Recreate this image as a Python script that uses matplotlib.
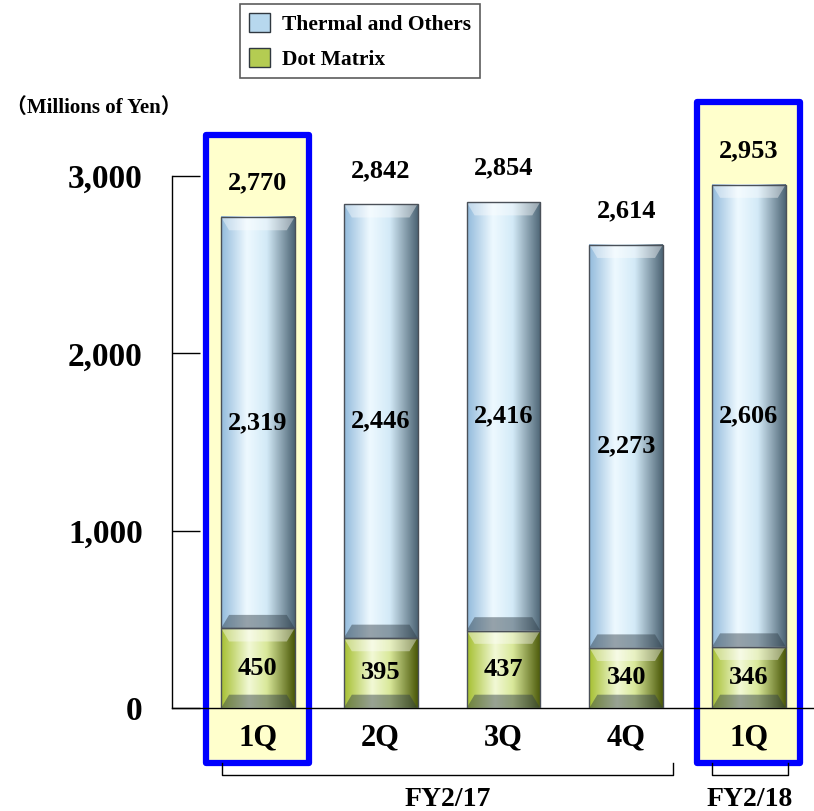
import numpy as np
import matplotlib
matplotlib.use("Agg")
import matplotlib.pyplot as plt
from matplotlib.colors import LinearSegmentedColormap
from matplotlib.patches import Rectangle, Polygon, Patch

quarters = ["1Q", "2Q", "3Q", "4Q", "1Q"]
dot_matrix = [450, 395, 437, 340, 346]
thermal = [2319, 2446, 2416, 2273, 2606]
totals = [2770, 2842, 2854, 2614, 2953]
years = ["FY2/17", "FY2/18"]
year_groups = [[0, 1, 2, 3], [4]]
highlighted = [0, 4]
y_ticks = [0, 1000, 2000, 3000]

plt.rcParams["font.family"] = ["Liberation Serif", "Noto Sans CJK JP"]
plt.rcParams["font.weight"] = "bold"

blue_cmap = LinearSegmentedColormap.from_list(
    "thermal", [(0, "#93bbdc"), (0.35, "#eef9ff"), (0.62, "#d3eaf7"), (1, "#4d6575")])
green_cmap = LinearSegmentedColormap.from_list(
    "dot", [(0, "#a6c032"), (0.38, "#f2f9d6"), (0.62, "#d9e89a"), (1, "#4a5808")])

W, H = 814, 811
fig = plt.figure(figsize=(W / 100, H / 100), dpi=100)
ax = fig.add_axes([172 / W, (H - 708) / H, (W - 172) / W, (708 - 176) / H])

x = np.arange(len(quarters))
width = 0.6
bx = 0.065   # bevel width (data units)
by = 75      # bevel height (data units)


def bevel_bar(xc, bottom, height, cmap):
    x0, x1 = xc - width / 2, xc + width / 2
    y0, y1 = bottom, bottom + height
    grad = cmap(np.linspace(0, 1, 200))[None, :, :]
    ax.imshow(grad, extent=(x0, x1, y0, y1), aspect="auto",
              interpolation="bicubic", zorder=3)
    top = Polygon([(x0, y1), (x1, y1), (x1 - bx, y1 - by), (x0 + bx, y1 - by)],
                  closed=True, facecolor="white", alpha=0.4, lw=0, zorder=4)
    bot = Polygon([(x0, y0), (x1, y0), (x1 - bx, y0 + by), (x0 + bx, y0 + by)],
                  closed=True, facecolor="#2c3a44", alpha=0.45, lw=0, zorder=4)
    ax.add_patch(top)
    ax.add_patch(bot)
    ax.add_patch(Rectangle((x0, y0), width, height, fill=False,
                           edgecolor="#4a5058", lw=1, zorder=5))


for i in range(len(quarters)):
    bevel_bar(x[i], 0, dot_matrix[i], green_cmap)
    bevel_bar(x[i], dot_matrix[i], thermal[i], blue_cmap)
    ax.text(x[i], dot_matrix[i] / 2, f"{dot_matrix[i]:,}", ha="center",
            va="center", fontsize=19, fontweight="bold", zorder=6)
    ax.text(x[i], dot_matrix[i] + thermal[i] / 2, f"{thermal[i]:,}",
            ha="center", va="center", fontsize=19, fontweight="bold", zorder=6)
    ax.text(x[i], totals[i] + 190, f"{totals[i]:,}", ha="center", va="center",
            fontsize=19, fontweight="bold", zorder=6, clip_on=False)

# highlight frames
for i in highlighted:
    ax.add_patch(Rectangle((x[i] - 0.42, -310), 0.84, totals[i] + 462 + 310,
                           facecolor="#ffffcc", edgecolor="#0000ff", lw=4.5,
                           joinstyle="round", zorder=1, clip_on=False))

# year brackets
spans = [(-0.29, 0.38), (-0.3, 0.32)]
for (lab, grp), (l, r) in zip(zip(years, year_groups), spans):
    xl, xr = grp[0] + l, grp[-1] + r
    ax.plot([xl, xl, xr, xr], [-310, -378, -378, -310], color="black", lw=1,
            clip_on=False)
    ax.text((xl + xr) / 2, -515, lab, ha="center", va="center", fontsize=20,
            fontweight="bold")

ax.set_xlim(-0.70, 4.53)
ax.set_ylim(0, 3000)
ax.set_yticks(y_ticks)
ax.set_yticklabels([f"{v:,}" for v in y_ticks], fontsize=24, fontweight="bold")
ax.set_xticks(x)
ax.set_xticklabels(quarters, fontsize=22, fontweight="bold")
ax.tick_params(axis="y", direction="in", length=20, width=1, pad=21)
ax.tick_params(axis="x", length=0, pad=11)
for s in ["top", "right"]:
    ax.spines[s].set_visible(False)
ax.spines["left"].set_linewidth(1)
ax.spines["bottom"].set_linewidth(1)
ax.patch.set_alpha(0)

fig.text(6 / W, 1 - 108 / H, "（Millions of Yen）", fontsize=15,
         fontweight="bold", va="center", ha="left")

handles = [Patch(facecolor="#b7d8ee", edgecolor="#303840"),
           Patch(facecolor="#b4cc52", edgecolor="#303840")]
leg = fig.legend(handles, ["Thermal and Others", "Dot Matrix"],
                 loc="upper left", bbox_to_anchor=(240 / W, 1 - 4 / H),
                 fontsize=15.5, frameon=True, fancybox=False, edgecolor="#333333",
                 handlelength=1.0, handleheight=1.0, borderpad=0.4,
                 labelspacing=0.6, handletextpad=0.55, borderaxespad=0)
leg.get_frame().set_linewidth(1.2)
for t in leg.get_texts():
    t.set_fontweight("bold")

fig.savefig("out.png", dpi=100)
